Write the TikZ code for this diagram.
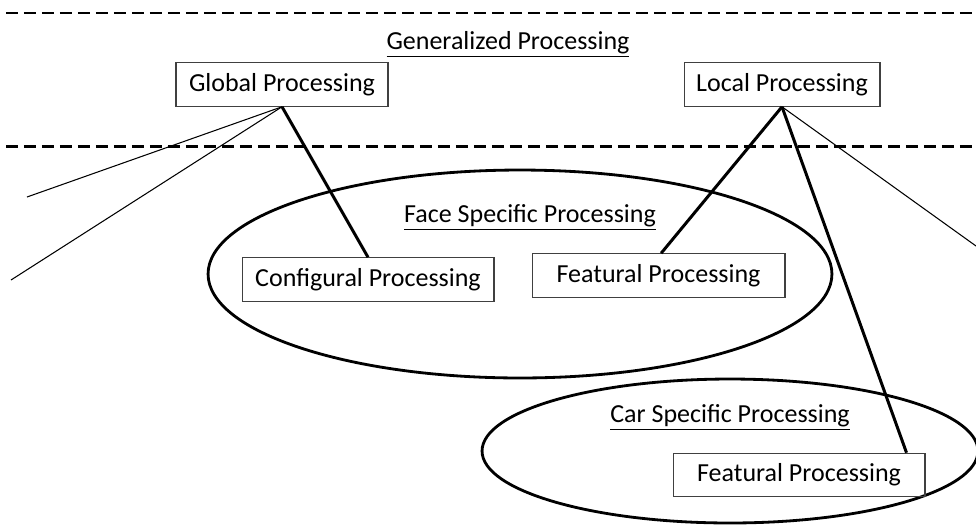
\documentclass[tikz,border=0pt]{standalone}
\usepackage{fontspec}
\setmainfont{Carlito}
\usepackage{tikz}
\usetikzlibrary{shapes.geometric}
\usetikzlibrary{calc}

\tikzset{
  procbox/.style={draw=black!75, line width=0.6pt, minimum height=0.87cm, inner sep=0pt},
  grouplabel/.style={inner sep=1pt},
  region/.style={ellipse, draw, line width=1.6pt, inner sep=0pt},
  strong/.style={line width=1.7pt},
  weak/.style={line width=0.6pt},
  divider/.style={line width=1.7pt, dash pattern=on 0.25cm off 0.11cm}
}

\begin{document}
\begin{tikzpicture}[x=0.02cm, y=-0.02cm, font=\fontsize{14.8}{17}\selectfont]
\useasboundingbox (0,0) rectangle (976,525);

% levels
\draw[divider] (6,13) -- (976,13);
\draw[divider] (6,146) -- (976,146);

\path
(508,44) node[grouplabel] (gen) {\underline{Generalized Processing}}
(282,84.5) node[procbox, minimum width=4.24cm] (global) {Global Processing}
(782,84.5) node[procbox, minimum width=3.92cm] (local) {Local Processing};

% face and car regions
\path
(520,274) node[region, minimum width=12.48cm, minimum height=4.16cm] (face) {}
(730,451) node[region, minimum width=9.92cm, minimum height=2.88cm] (car) {};

\path
(530,217) node[grouplabel] (facelbl) {\underline{Face Specific Processing}}
(368,279.5) node[procbox, minimum width=5.04cm] (config) {Configural Processing}
(658.5,275.5) node[procbox, minimum width=5.06cm] (featF) {Featural Processing}
(730,417) node[grouplabel] (carlbl) {\underline{Car Specific Processing}}
(799,475) node[procbox, minimum width=5.04cm] (featC) {Featural Processing};

% loose ends of the thin lines
\coordinate (g1) at (27,197);
\coordinate (g2) at (11,280);
\coordinate (l1) at (976,246);

\draw[strong] (global.south) -- (config.north);
\draw[weak] (global.south) -- (g1);
\draw[weak] (global.south) -- (g2);

\draw[strong] (local.south) -- ([xshift=1.5pt]featF.north);
\draw[strong] (local.south) -- ([xshift=-0.38cm]featC.north east);
\draw[weak] (local.south) -- (l1);

\end{tikzpicture}
\end{document}
